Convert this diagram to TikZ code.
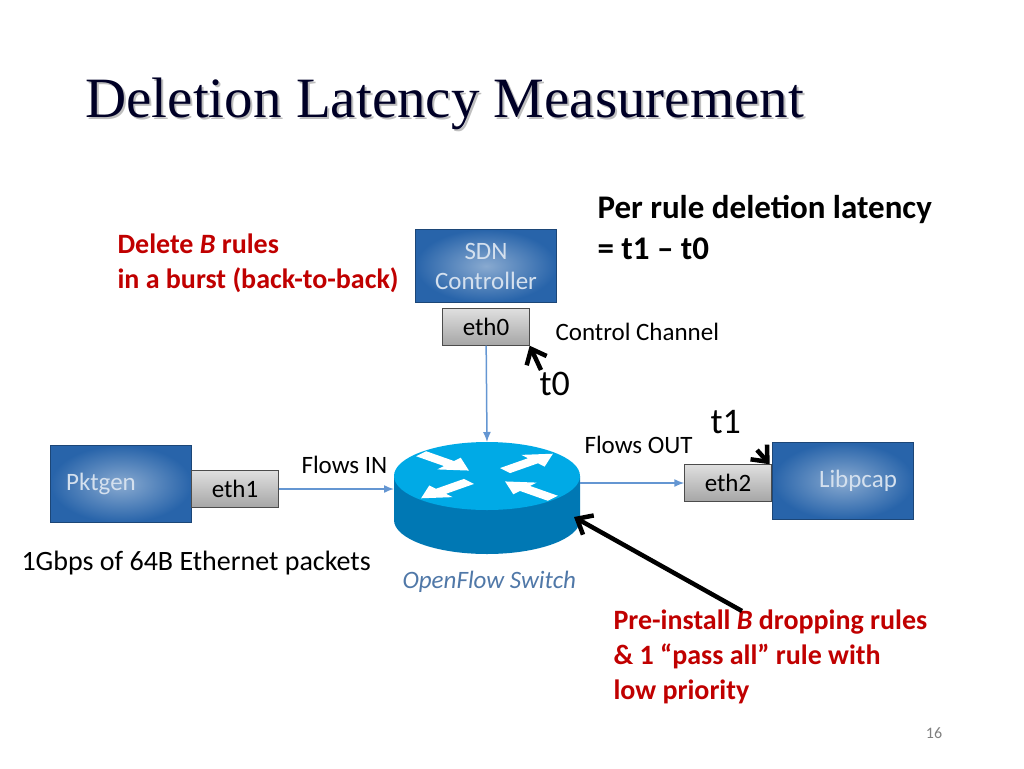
\documentclass[tikz,border=0pt]{standalone}
\usepackage{fontspec}
\setmainfont{Carlito}
\newfontfamily\titlefont{Liberation Serif}
\usetikzlibrary{arrows.meta,shapes.geometric}
\definecolor{boxblue}{RGB}{40,100,170}
\definecolor{linkblue}{RGB}{100,150,210}
\definecolor{switchblue}{RGB}{0,170,230}
\definecolor{switchside}{RGB}{0,120,180}
\definecolor{alertred}{RGB}{192,0,0}
\begin{document}
\begin{tikzpicture}[x=1pt,y=-1pt,font=\fontsize{25}{30}\selectfont,
  host/.style={rectangle, draw=boxblue!70!black, inner color=boxblue!55, outer color=boxblue, text=white!80!boxblue, minimum width=141pt, align=center},
  port/.style={rectangle, draw=gray!60!black, top color=gray!25, bottom color=gray!70, minimum width=87pt, minimum height=37pt},
  link/.style={-{Latex[length=10pt,width=8pt]}, linkblue, line width=1.5pt},
  marker/.style={-{Straight Barb[length=13pt,width=22pt]}, line width=4.5pt, black},
  note/.style={alertred, font=\fontsize{28}{35}\selectfont\bfseries, align=left, anchor=north west}]
  \useasboundingbox (0,0) rectangle (1024,768);
  % Title
  \node[anchor=west, font=\titlefont\fontsize{57}{60}\selectfont, text=gray!50] at (84,106) {Deletion Latency Measurement};
  \node[anchor=west, font=\titlefont\fontsize{57}{60}\selectfont, text=black!85!blue] (title) at (82,104) {Deletion Latency Measurement};
  % Hosts and ports
  \node[host, minimum height=73pt] (sdn) at (486,266) {SDN\\Controller};
  \node[port] (eth0) at (486,327) {eth0};
  \node[host, minimum height=77pt] (pktgen) at (121,484) {\hspace*{-40pt}Pktgen};
  \node[port] (eth1) at (235,489) {eth1};
  \node[host, minimum height=77pt] (libpcap) at (843,481) {\hspace*{30pt}Libpcap};
  \node[port] (eth2) at (728,483) {eth2};
  % Switch
  \fill[switchside] (394,476) -- (394,520) arc[start angle=180, end angle=0, x radius=93, y radius=34] -- (580,476) -- cycle;
  \node[ellipse, fill=switchblue, minimum width=186pt, minimum height=68pt, inner sep=0pt] (switch) at (487,476) {};
  \foreach \sx/\sy/\ang in {-42/-33/320, 42/-33/40, -42/33/220, 42/33/140}{
    \fill[white, shift={(487,476)}, yscale=0.42, shift={(\sx,\sy)}, rotate=\ang, scale=1.3]
      (-24,-6) -- (4,-6) -- (4,-14) -- (24,0) -- (4,14) -- (4,6) -- (-24,6) -- cycle;
  }
  \coordinate (swtop) at (487,442);
  \coordinate (swin) at (394,489);
  \coordinate (swout) at (580,483);
  \coordinate (swport) at (574,517);
  % Links
  \draw[link] (eth0) -- (swtop);
  \draw[link] (eth1) -- (swin);
  \draw[link] (swout) -- (eth2);
  % Labels
  \node[anchor=west] (ctrl) at (552,332) {Control Channel};
  \node[anchor=west, font=\fontsize{36}{38}\selectfont] (t0) at (536,384) {t0};
  \node[anchor=west, font=\fontsize{36}{38}\selectfont] (t1) at (707,422) {t1};
  \node[anchor=west] at (581,445) {Flows OUT};
  \node[anchor=west] at (298,465) {Flows IN};
  \node[anchor=west, font=\fontsize{28}{30}\selectfont] at (18,563) {1Gbps of 64B Ethernet packets};
  \node[anchor=west, text=linkblue!80!black, font=\fontsize{25}{30}\itshape] at (399,582) {OpenFlow Switch};
  \node[note] at (114,230) {Delete \textit{B} rules\\in a burst (back-to-back)};
  \node[note, text=black, font=\fontsize{33}{41}\selectfont\bfseries] at (594,192) {Per rule deletion latency\\= t1 -- t0};
  \node[note] (preinstall) at (610,606) {Pre-install \textit{B} dropping rules\\\& 1 ``pass all'' rule with\\low priority};
  \node[text=gray, font=\fontsize{16}{18}\selectfont] at (934,733) {16};
  % Timestamp markers
  \coordinate (t0tail) at (541,370);
  \coordinate (t1tail) at (757,450);
  \coordinate (pretail) at (742,611);
  \draw[marker] (t0tail) -- (eth0.south east);
  \draw[marker] (t1tail) -- ([xshift=-2pt]eth2.north east);
  \draw[marker] (pretail) -- (swport);
\end{tikzpicture}
\end{document}
